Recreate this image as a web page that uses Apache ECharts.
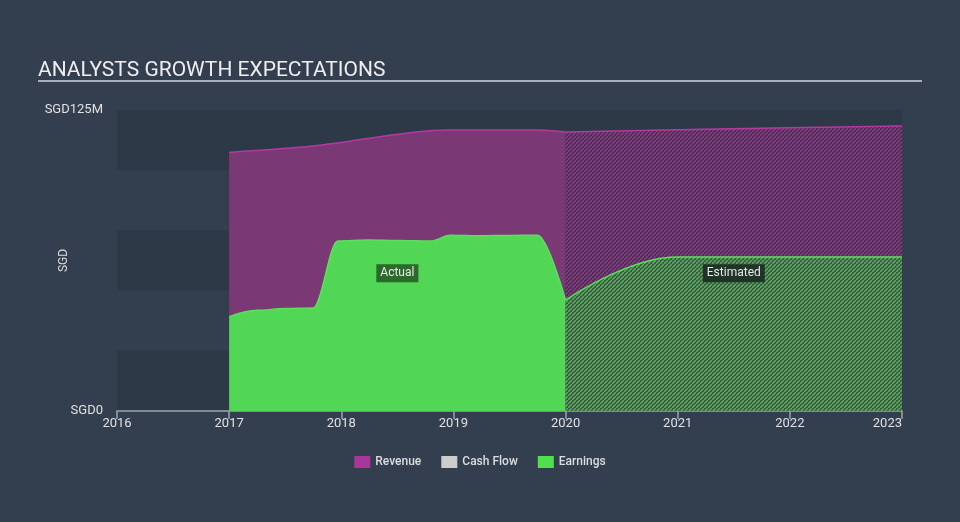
<!DOCTYPE html>
<html>
<head>
<meta charset="utf-8">
<script src="https://cdn.jsdelivr.net/npm/echarts@6/dist/echarts.min.js"></script>
<style>
  html, body { margin: 0; padding: 0; background: #333f4f; }
  #chart { width: 960px; height: 522px; }
</style>
</head>
<body>
<div id="chart"></div>
<script>
// ---- Data (values in SGD millions, x in decimal years) ----
const revenueActualX = [2017.0, 2017.75, 2018.95, 2019.75, 2020.0];
const revenueActual  = [107.4, 110.0, 116.7, 116.7, 115.9];
const revenueEstX    = [2020.0, 2021.0, 2022.0, 2023.0];
const revenueEst     = [115.9, 116.8, 117.6, 118.4];

const earningsActualX = [2017.0, 2017.25, 2017.5, 2017.75, 2017.97, 2018.25, 2018.5, 2018.8, 2018.97, 2019.25, 2019.5, 2019.75, 2020.0];
const earningsActual  = [39.2, 41.8, 42.6, 42.8, 70.6, 71.0, 70.8, 70.6, 73.0, 72.8, 72.9, 73.0, 46.0];
const earningsEstX    = [2020.0, 2021.0, 2022.0, 2023.0];
const earningsEst     = [46.0, 64.0, 64.0, 64.0];

const xTicks = [2016, 2017, 2018, 2019, 2020, 2021, 2022, 2023];
const yMin = 0, yMax = 125, yStep = 25;
const legendNames = ['Revenue', 'Cash Flow', 'Earnings'];
const labelActual = { text: 'Actual', x: 2018.5, y: 57.2 };
const labelEst = { text: 'Estimated', x: 2021.5, y: 57.2 };

function pairs(xs, ys) { return xs.map((x, i) => [x, ys[i]]); }

function hatch(bg, fg) {
  const s = 4;
  const c = document.createElement('canvas');
  c.width = s; c.height = s;
  const g = c.getContext('2d');
  g.fillStyle = bg; g.fillRect(0, 0, s, s);
  g.strokeStyle = fg; g.lineWidth = 1.3;
  g.beginPath();
  g.moveTo(-1, s + 1); g.lineTo(s + 1, -1);
  g.moveTo(-1 - s, 1); g.lineTo(1, -1 - s);
  g.moveTo(s - 1, 2 * s + 1); g.lineTo(2 * s + 1, s - 1);
  g.stroke();
  return c;
}

const revFill = '#7a3875';
const revLine = '#b43aa0';
const revLegend = '#a8379a';
const earnFill = '#52d655';
const earnLine = '#5be05c';

const chart = echarts.init(document.getElementById('chart'));
const option = {
  backgroundColor: '#333f4f',
  animation: false,
  textStyle: { fontFamily: 'Roboto, sans-serif' },
  title: {
    text: 'ANALYSTS GROWTH EXPECTATIONS',
    left: 33, top: 55,
    textStyle: { color: '#eeeeee', fontSize: 21, fontWeight: 'normal', fontFamily: 'Roboto' }
  },
  graphic: [{
    type: 'rect', shape: { x: 38, y: 80, width: 884, height: 2 },
    style: { fill: '#a7b0ba' }, silent: true
  }],
  legend: {
    data: legendNames,
    top: 451, left: 'center',
    icon: 'rect', itemWidth: 16, itemHeight: 12, itemGap: 20,
    textStyle: { color: '#dddddd', fontSize: 12, fontWeight: 500 },
    selectedMode: false
  },
  grid: { left: 117, right: 58, top: 110, bottom: 111 },
  xAxis: {
    type: 'value', min: xTicks[0], max: xTicks[xTicks.length - 1], interval: 1,
    axisLine: { show: true, lineStyle: { color: '#9aa5b2', width: 1.5 } },
    axisTick: { show: true, length: 8, lineStyle: { color: '#9aa5b2', width: 1.5 } },
    axisLabel: { color: '#e0e0e0', fontSize: 13, margin: 6, alignMaxLabel: 'right',
      formatter: v => xTicks.indexOf(v) >= 0 ? String(v) : '' },
    splitLine: { show: false }
  },
  yAxis: {
    type: 'value', min: yMin, max: yMax, interval: yStep,
    name: 'SGD', nameLocation: 'middle', nameGap: 47, nameRotate: 90,
    nameMoveOverlap: false,
    nameTextStyle: { color: '#dddddd', fontSize: 12 },
    axisLine: { show: false }, axisTick: { show: false },
    splitLine: { show: false },
    splitArea: { show: true, areaStyle: { color: ['#2d3947', 'rgba(0,0,0,0)'] } },
    axisLabel: { color: '#e0e0e0', fontSize: 13, margin: 14,
      formatter: v => v === yMin ? 'SGD0' : (v === yMax ? 'SGD125M' : '') }
  },
  series: [
    {
      name: 'Revenue', type: 'line', data: pairs(revenueActualX, revenueActual),
      smooth: 0.3, symbol: 'none', color: revLegend,
      lineStyle: { color: revLine, width: 1.5 },
      areaStyle: { color: revFill, opacity: 1 }, z: 2
    },
    {
      name: 'Revenue', type: 'line', data: pairs(revenueEstX, revenueEst),
      smooth: 0.3, symbol: 'none', color: revLegend,
      lineStyle: { color: revLine, width: 1.5 },
      areaStyle: { color: { image: hatch('#4a3150', '#8f3a8c'), repeat: 'repeat' }, opacity: 1 }, z: 2
    },
    { name: 'Cash Flow', type: 'line', data: [], color: '#cccccc' },
    {
      name: 'Earnings', type: 'line', data: pairs(earningsActualX, earningsActual),
      smooth: 0.35, smoothMonotone: 'x', symbol: 'none', color: '#4fe04f',
      lineStyle: { color: earnLine, width: 1.5 },
      areaStyle: { color: earnFill, opacity: 1 }, z: 3,
      markPoint: {
        symbol: 'rect', symbolSize: 1, itemStyle: { color: 'rgba(0,0,0,0)' },
        data: [{ coord: [labelActual.x, labelActual.y], value: labelActual.text }],
        label: { show: true, position: 'inside', formatter: labelActual.text,
          color: '#e8e8e8', fontSize: 12, backgroundColor: '#2b6a2b', padding: [3, 4] }
      }
    },
    {
      name: 'Earnings', type: 'line', data: pairs(earningsEstX, earningsEst),
      smooth: 0.45, smoothMonotone: 'x', symbol: 'none', color: '#4fe04f',
      lineStyle: { color: earnLine, width: 1.5 },
      areaStyle: { color: { image: hatch('#44574d', '#52b955'), repeat: 'repeat' }, opacity: 1 }, z: 3,
      markPoint: {
        symbol: 'rect', symbolSize: 1, itemStyle: { color: 'rgba(0,0,0,0)' },
        data: [{ coord: [labelEst.x, labelEst.y], value: labelEst.text }],
        label: { show: true, position: 'inside', formatter: labelEst.text,
          color: '#e8e8e8', fontSize: 12, backgroundColor: '#1f3327', padding: [3, 4] }
      }
    }
  ]
};
chart.setOption(option);
</script>
</body>
</html>
